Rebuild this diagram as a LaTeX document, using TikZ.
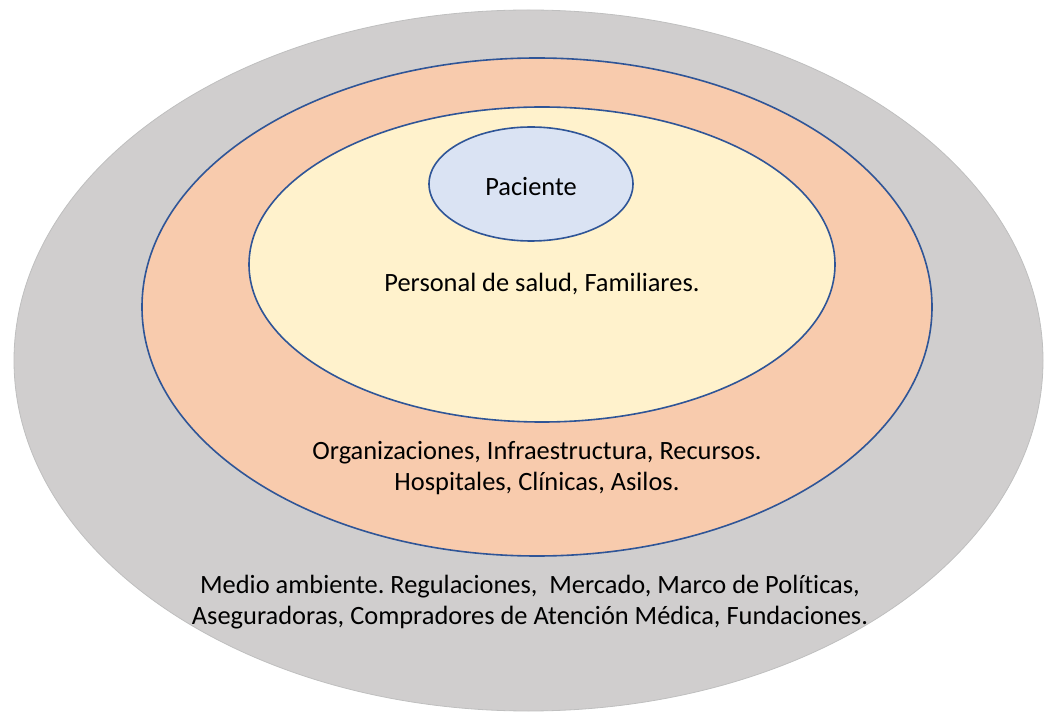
\documentclass[tikz,border=0pt]{standalone}
\usepackage{fontspec}
\setmainfont{Carlito}[Ligatures={NoCommon}]
\usepackage{tikz}
\frenchspacing
\definecolor{ringgray}{HTML}{D0CECE}
\definecolor{ringorange}{HTML}{F8CBAD}
\definecolor{ringyellow}{HTML}{FFF2CC}
\definecolor{ringblue}{HTML}{DAE3F3}
\definecolor{ringline}{HTML}{2F5597}
\def\outerring{(528.5,360.5) ellipse (514.5 and 350.5)}
\def\orgring{(537,307) ellipse (395 and 249)}
\def\staffring{(542,264.5) ellipse (293 and 157.5)}
\def\patientring{(531,184) ellipse (102 and 57)}

\begin{document}
\begin{tikzpicture}[x=1pt,y=-1pt,
    label/.style={font=\fontsize{26.4}{31}\selectfont, align=center, text=black}]
    \useasboundingbox (0,0) rectangle (1045,719);
    \fill[ringgray] \outerring;
    \draw[black!25, line width=0.8pt] \outerring;
    \filldraw[fill=ringorange, draw=ringline, line width=1.6pt] \orgring;
    \filldraw[fill=ringyellow, draw=ringline, line width=1.6pt] \staffring;
    \filldraw[fill=ringblue, draw=ringline, line width=1.6pt] \patientring;
    \node[label] (paciente) at (531,187) {Paciente};
    \node[label] (personal) at (542,284) {Personal de salud, Familiares.};
    \node[label] (organizaciones) at (537,468.5) {Organizaciones, Infraestructura, Recursos.\\Hospitales, Clínicas, Asilos.};
    \node[label] (medio) at (530,602.5) {Medio ambiente. Regulaciones,\ \ Mercado, Marco de Políticas,\\Aseguradoras, Compradores de Atención Médica, Fundaciones.};
\end{tikzpicture}
\end{document}
